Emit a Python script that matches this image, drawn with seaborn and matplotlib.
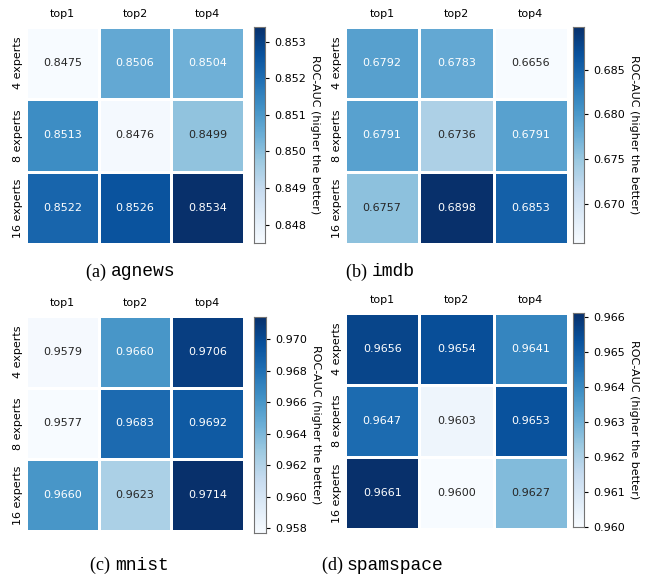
import numpy as np
import pandas as pd
import matplotlib
matplotlib.use('Agg')
import matplotlib.pyplot as plt
import seaborn as sns

# data
topk = ['top1', 'top2', 'top4']
experts = ['4 experts', '8 experts', '16 experts']

agnews = [[0.8475, 0.8506, 0.8504],
          [0.8513, 0.8476, 0.8499],
          [0.8522, 0.8526, 0.8534]]
imdb = [[0.6792, 0.6783, 0.6656],
        [0.6791, 0.6736, 0.6791],
        [0.6757, 0.6898, 0.6853]]
mnist = [[0.9579, 0.9660, 0.9706],
         [0.9577, 0.9683, 0.9692],
         [0.9660, 0.9623, 0.9714]]
spamspace = [[0.9656, 0.9654, 0.9641],
             [0.9647, 0.9603, 0.9653],
             [0.9661, 0.9600, 0.9627]]

panels = [
    ('(a)', 'agnews', agnews),
    ('(b)', 'imdb', imdb),
    ('(c)', 'mnist', mnist),
    ('(d)', 'spamspace', spamspace),
]

# axes boxes in figure fraction: heatmap, colorbar, caption anchor
W, H = 659, 581
def box(x0, y0, x1, y1):
    return [x0 / W, 1 - y1 / H, (x1 - x0) / W, (y1 - y0) / H]

layout = [
    (box(26, 27, 244, 244), box(254, 27, 265, 243), (111, 272)),
    (box(345, 27, 568, 244), box(573, 27, 584, 243), (372, 272)),
    (box(26, 316, 244, 531), box(254, 317, 266, 533), (115, 565)),
    (box(345, 313, 568, 529), box(573, 313, 584, 527), (347, 565)),
]

fig = plt.figure(figsize=(6.59, 5.81), dpi=100)

for (tag, name, vals), (hbox, cbox, cap) in zip(panels, layout):
    df = pd.DataFrame(vals, index=experts, columns=topk)
    ax = fig.add_axes(hbox)
    cax = fig.add_axes(cbox)
    sns.heatmap(df, ax=ax, cbar_ax=cax, cmap='Blues', annot=True, fmt='.4f',
                linewidths=2, linecolor='white',
                annot_kws={'fontsize': 8})
    ax.xaxis.tick_top()
    ax.tick_params(axis='x', length=0, labelsize=8, pad=6)
    ax.tick_params(axis='y', length=0, labelsize=8, pad=2)
    ax.set_yticklabels(experts, rotation=90, va='center')
    ax.set_xlabel('')
    ax.set_ylabel('')

    cax.tick_params(labelsize=8, length=3)
    cax.set_ylabel('ROC-AUC (higher the better)', rotation=270, fontsize=8,
                   labelpad=10)
    for sp in cax.spines.values():
        sp.set_visible(True)
        sp.set_edgecolor('0.45')

    x, y = cap
    fig.text(x / W, 1 - y / H, tag + ' ', family='Liberation Serif', fontsize=13,
             ha='right', va='center')
    fig.text(x / W, 1 - y / H, name, family='Liberation Mono', fontsize=13,
             ha='left', va='center')

fig.savefig('out.png', dpi=100)
